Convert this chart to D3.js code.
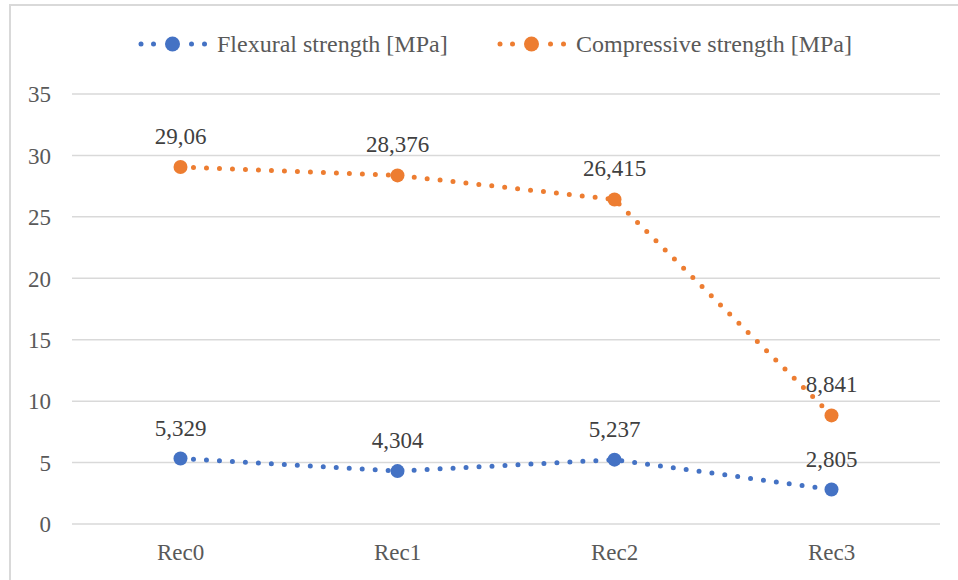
<!DOCTYPE html>
<html>
<head>
<meta charset="utf-8">
<script src="https://cdn.jsdelivr.net/npm/d3@7"></script>
<style>
  html, body { margin: 0; padding: 0; background: #fff; }
  svg { display: block; }
</style>
</head>
<body>
<svg id="chart" width="958" height="580"></svg>
<script>
// Chart data
const categories = ["Rec0", "Rec1", "Rec2", "Rec3"];
const flexural = [5.329, 4.304, 5.237, 2.805];
const compressive = [29.06, 28.376, 26.415, 8.841];
const flexuralLabels = ["5,329", "4,304", "5,237", "2,805"];
const compressiveLabels = ["29,06", "28,376", "26,415", "8,841"];
const yTicks = [0, 5, 10, 15, 20, 25, 30, 35];
const seriesNames = ["Flexural strength [MPa]", "Compressive strength [MPa]"];

const colors = ["#4472C4", "#ED7D31"];
const FONT = "'Liberation Serif', 'Times New Roman', Times, serif";
const svg = d3.select("#chart");

// Outer chart frame
svg.append("rect")
  .attr("x", 10).attr("y", 5)
  .attr("width", 1000).attr("height", 1000)
  .attr("fill", "none").attr("stroke", "#d9d9d9").attr("stroke-width", 2);

const plot = { left: 72, right: 940, top: 94, bottom: 524 };

const x = d3.scaleBand().domain(categories).range([plot.left, plot.right]);
const cx = c => x(c) + x.bandwidth() / 2;
const y = d3.scaleLinear().domain([0, 35]).range([plot.bottom, plot.top]);

// Horizontal gridlines
svg.append("g").selectAll("line").data(yTicks).join("line")
  .attr("x1", plot.left).attr("x2", plot.right)
  .attr("y1", d => y(d)).attr("y2", d => y(d))
  .attr("stroke", "#d9d9d9").attr("stroke-width", 1.5);

// Y axis labels
const yAxis = d3.axisLeft(y).tickValues(yTicks).tickSize(0).tickPadding(0);
const yg = svg.append("g").attr("transform", "translate(51,0)").call(yAxis);
yg.select(".domain").remove();
yg.selectAll("text")
  .style("font-family", FONT)
  .style("font-size", "23px").attr("fill", "#595959")
  .attr("x", 0).attr("dy", "0.34em");

// X axis labels
const xAxis = d3.axisBottom(x).tickSize(0).tickPadding(0);
const xg = svg.append("g").attr("transform", "translate(0,560)").call(xAxis);
xg.select(".domain").remove();
xg.selectAll("text")
  .style("font-family", FONT)
  .style("font-size", "23px").attr("fill", "#595959")
  .attr("y", 0).attr("dy", 0);

const line = d3.line().x(d => cx(d.c)).y(d => y(d.v));

const series = [
  { values: flexural, labels: flexuralLabels, color: colors[0] },
  { values: compressive, labels: compressiveLabels, color: colors[1] }
];

series.forEach(s => {
  const pts = categories.map((c, i) => ({ c, v: s.values[i], label: s.labels[i] }));
  svg.append("path")
    .datum(pts)
    .attr("d", line)
    .attr("fill", "none")
    .attr("stroke", s.color)
    .attr("stroke-width", 5)
    .attr("stroke-linecap", "round")
    .attr("stroke-dasharray", "0 13");
  svg.append("g").selectAll("circle").data(pts).join("circle")
    .attr("cx", d => cx(d.c)).attr("cy", d => y(d.v))
    .attr("r", 7).attr("fill", s.color);
  svg.append("g").selectAll("text").data(pts).join("text")
    .attr("x", d => cx(d.c)).attr("y", d => y(d.v) - 23)
    .attr("text-anchor", "middle")
    .style("font-family", FONT)
    .style("font-size", "23px").attr("fill", "#404040")
    .text(d => d.label);
});

// Legend: two small dots each side of a larger marker, then the series name
const legendItems = [
  { name: seriesNames[0], color: colors[0], x0: 141 },
  { name: seriesNames[1], color: colors[1], x0: 500 }
];
const ly = 44;
legendItems.forEach(it => {
  const g = svg.append("g");
  const dots = [0, 12.5, 50.5, 63.5];
  g.selectAll("circle.dot").data(dots).join("circle")
    .attr("class", "dot")
    .attr("cx", d => it.x0 + d).attr("cy", ly)
    .attr("r", 2.5).attr("fill", it.color);
  g.append("circle")
    .attr("cx", it.x0 + 31.5).attr("cy", ly).attr("r", 7.5).attr("fill", it.color);
  g.append("text")
    .attr("x", it.x0 + 76).attr("y", ly + 8)
    .style("font-family", FONT)
    .style("font-size", "24px").attr("fill", "#595959")
    .text(it.name);
});
</script>
</body>
</html>
